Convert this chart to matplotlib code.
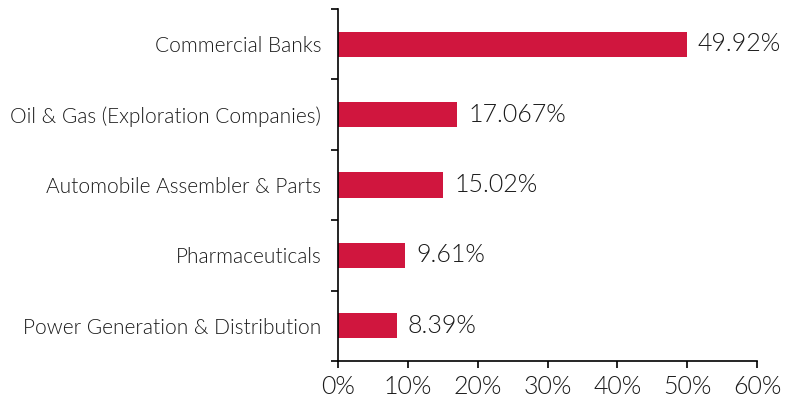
import matplotlib
matplotlib.use("Agg")
import matplotlib.pyplot as plt
import numpy as np

categories = ["Commercial Banks", "Oil & Gas (Exploration Companies)",
              "Automobile Assembler & Parts", "Pharmaceuticals",
              "Power Generation & Distribution"]
values = [49.92, 17.067, 15.02, 9.61, 8.39]
value_labels = ["49.92%", "17.067%", "15.02%", "9.61%", "8.39%"]
xticks = [0, 10, 20, 30, 40, 50, 60]
xtick_labels = ["0%", "10%", "20%", "30%", "40%", "50%", "60%"]

plt.rcParams['font.family'] = ['Lato', 'DejaVu Sans']
W = 300
fig = plt.figure(figsize=(7.88, 4.01), dpi=100)
ax = fig.add_axes([338/788, 1 - 361/401, (757-338)/788, (361-9)/401])

n = len(categories)
y = np.arange(n)[::-1]
ax.barh(y, values, height=0.36, color="#D0163E", zorder=2)
for yi, v, lab in zip(y, values, value_labels):
    ax.text(v + 1.6, yi, lab, va="center", ha="left", fontsize=18,
            color="#1a1a1a", fontweight=W)

ax.set_xlim(0, 60)
ax.set_ylim(-0.5, n - 0.5)
ax.set_xticks(xticks)
ax.set_xticklabels(xtick_labels, fontsize=18, color="#1a1a1a", fontweight=W)
ax.set_yticks(y)
ax.set_yticklabels(categories, fontsize=15, color="#1a1a1a", fontweight=W)
ax.tick_params(axis="y", which="major", length=0, pad=12)
ax.set_yticks(np.arange(-0.5, n, 1.0), minor=True)
ax.tick_params(axis="y", which="minor", length=5, width=1.2, color="black")
ax.tick_params(axis="x", length=5, width=1.2, color="black", pad=5)
for s in ["top", "right"]:
    ax.spines[s].set_visible(False)
for s in ["left", "bottom"]:
    ax.spines[s].set_linewidth(1.2)
    ax.spines[s].set_color("black")

fig.savefig("out.png", dpi=100)
